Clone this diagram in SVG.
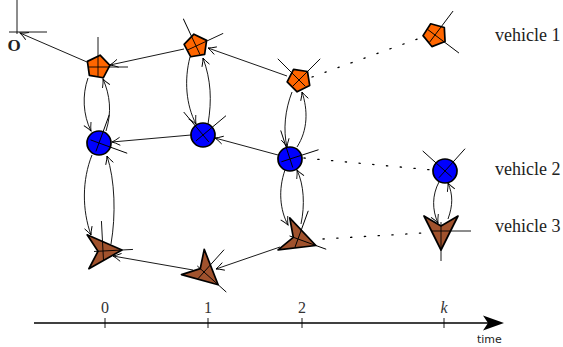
<svg xmlns="http://www.w3.org/2000/svg" width="563" height="347" viewBox="0 0 563 347">
<style>
.edge{fill:none;stroke:#000;stroke-width:0.9;marker-end:url(#arr)}
.dot{fill:none;stroke:#000;stroke-width:1.3;stroke-dasharray:1.3 12.5;stroke-linecap:round}
.frame{fill:none;stroke:#000;stroke-width:0.9}
.pent{fill:#FF6600;stroke:#000;stroke-width:1.7;stroke-linejoin:round}
.circ{fill:#0000FF;stroke:#000;stroke-width:1.7}
.dart{fill:#A0522D;stroke:#000;stroke-width:1.7;stroke-linejoin:round}
.lbl{font-family:"Liberation Serif",serif;font-size:18px;fill:#222}
.num{font-family:"Liberation Serif",serif;font-size:16px;fill:#333;text-anchor:middle}
</style>
<defs>
<marker id="arr" markerUnits="userSpaceOnUse" markerWidth="12" markerHeight="12" refX="0" refY="0" orient="auto" overflow="visible">
<path d="M-8,-4 Q-3,-1 0,0 Q-3,1 -8,4" fill="none" stroke="#000" stroke-width="0.9"/>
</marker>
<polygon id="pentShape" points="12,0 3.71,11.41 -9.71,7.05 -9.71,-7.05 3.71,-11.41"/>
<polygon id="dartShape" points="19,0 -15,-17 -5,0 -15,17"/>
<path id="frameShape" d="M-9,0 H30 M0,9 V-30"/>
</defs>

<g id="origin">
<path d="M17,0 V34 M9,32 H47" fill="none" stroke="#000" stroke-width="0.9"/>
<text x="14" y="51" font-family="Liberation Serif,serif" font-size="17" font-weight="bold" text-anchor="middle" fill="#222">O</text>
</g>

<g id="connectors">
<path class="edge" d="M87,62 L20,33"/>
<path class="edge" d="M184,49 L110,65"/>
<path class="edge" d="M287,76 L208,48"/>
<path class="edge" d="M191,135 L112,142"/>
<path class="edge" d="M278,155 L215,138"/>
<path class="edge" d="M193,270 L113,256"/>
<path class="edge" d="M280,247 L216,269"/>
<path class="edge" d="M88,78 C82,95 83,115 91,131"/>
<path class="edge" d="M106,131 C112,112 110,95 103,79"/>
<path class="edge" d="M92,155 C82,180 82,210 91,235"/>
<path class="edge" d="M111,244 C116,215 115,180 107,156"/>
<path class="edge" d="M190,57 C184,80 186,105 196,124"/>
<path class="edge" d="M208,124 C212,100 211,80 203,58"/>
<path class="edge" d="M292,92 C285,110 283,130 287,147"/>
<path class="edge" d="M297,147 C308,130 308,110 302,92"/>
<path class="edge" d="M285,170 C278,190 280,210 288,225"/>
<path class="edge" d="M301,224 C305,205 304,185 297,170"/>
<path class="edge" d="M439,182 C432,195 432,210 438,223"/>
<path class="edge" d="M448,219 C453,205 453,195 448,183"/>
<path class="dot" d="M312,77 L423,37"/>
<path class="dot" d="M304,158 L432,170"/>
<path class="dot" d="M323,239 L423,233"/>
</g>

<g id="v1t0" transform="translate(98,67)"><use href="#pentShape" class="pent" transform="rotate(-8)"/><use href="#frameShape" class="frame"/></g>
<g id="v1t1" transform="translate(196,46)"><use href="#pentShape" class="pent" transform="rotate(-28)"/><use href="#frameShape" class="frame" transform="rotate(-25)"/></g>
<g id="v1t2" transform="translate(299,80)"><use href="#pentShape" class="pent" transform="rotate(-45)"/><use href="#frameShape" class="frame" transform="rotate(-45)"/></g>
<g id="v1k" transform="translate(435,35)"><use href="#pentShape" class="pent" transform="rotate(33)"/><use href="#frameShape" class="frame" transform="rotate(37)"/></g>

<g id="v2t0" transform="translate(99,143)"><circle r="12" class="circ"/><use href="#frameShape" class="frame" transform="rotate(20)"/></g>
<g id="v2t1" transform="translate(203,135)"><circle r="12" class="circ"/><use href="#frameShape" class="frame" transform="rotate(-40)"/></g>
<g id="v2t2" transform="translate(290,159)"><circle r="12" class="circ"/><use href="#frameShape" class="frame" transform="rotate(-18)"/></g>
<g id="v2k" transform="translate(445,171)"><circle r="12" class="circ"/><use href="#frameShape" class="frame" transform="rotate(-48)"/></g>

<g id="v3t0" transform="translate(103,251)"><use href="#dartShape" class="dart" transform="rotate(-3)"/><use href="#frameShape" class="frame" transform="rotate(-3)"/></g>
<g id="v3t1" transform="translate(204,272)"><use href="#dartShape" class="dart" transform="rotate(42)"/><use href="#frameShape" class="frame" transform="rotate(42)"/></g>
<g id="v3t2" transform="translate(298,239)"><use href="#dartShape" class="dart" transform="rotate(20)"/><use href="#frameShape" class="frame" transform="rotate(20)"/></g>
<g id="v3k" transform="translate(441,231)"><use href="#dartShape" class="dart" transform="rotate(90)"/><use href="#frameShape" class="frame" transform="rotate(90)"/></g>

<g id="labels">
<text class="lbl" x="495" y="41">vehicle 1</text>
<text class="lbl" x="495" y="175">vehicle 2</text>
<text class="lbl" x="495" y="232">vehicle 3</text>
</g>

<g id="timeaxis">
<path d="M34,323 H490" stroke="#000" stroke-width="1.7" fill="none"/>
<polygon points="504,323 483,315.5 488,323 483,330.5" fill="#000"/>
<path d="M105,318 V328 M208,318 V328 M302,318 V328 M444,318 V328" stroke="#000" stroke-width="0.9"/>
<text class="num" x="105" y="313">0</text>
<text class="num" x="208" y="313">1</text>
<text class="num" x="302" y="313">2</text>
<text class="num" x="444" y="313" font-style="italic">k</text>
<text x="477" y="343" font-family="DejaVu Sans,sans-serif" font-size="11" fill="#222">time</text>
</g>
</svg>
